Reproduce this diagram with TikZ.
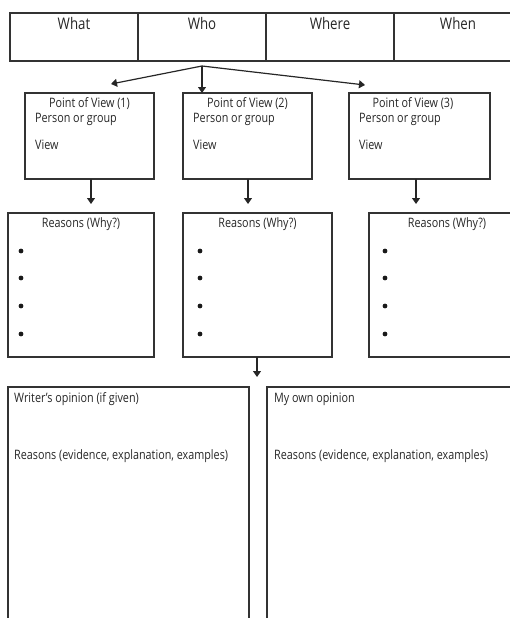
\documentclass[tikz,border=0pt]{standalone}
\usepackage{fontspec}
\setmainfont{Open Sans}[FakeStretch=0.83]
\usetikzlibrary{positioning,calc,arrows.meta}
\tikzset{
  boxline/.style={draw=black!80, line width=1.2pt},
  plainbox/.style={boxline, rectangle, inner sep=0pt, outer sep=0pt},
  cellbox/.style={plainbox, minimum width=128pt, minimum height=48pt},
  pvbox/.style={plainbox, minimum width=129pt, minimum height=86pt},
  whybox/.style={plainbox, minimum height=144pt},
  opinionbox/.style={plainbox, minimum height=260pt},
  headtext/.style={font=\fontsize{16}{19}\selectfont, text=black!85, inner sep=0pt},
  bodytext/.style={font=\fontsize{13}{15}\selectfont, text=black!85, inner sep=0pt},
  linkarrow/.style={-{Triangle[length=6pt,width=8pt]}, draw=black!85, line width=1.2pt},
  dotmark/.style={fill=black!90},
}

\begin{document}
\begin{tikzpicture}[x=1pt, y=-1pt]
  \useasboundingbox (0,0) rectangle (510,618);
  \clip (0,0) rectangle (510,618);

  % Top table
  \node[cellbox, anchor=north west] (what) at (10,13) {};
  \node[cellbox, right=0pt of what] (who) {};
  \node[cellbox, right=0pt of who] (where) {};
  \node[cellbox, right=0pt of where] (when) {};
  \foreach \c/\t in {what/What, who/Who, where/Where, when/When}
    \node[headtext, anchor=base] (\c-lbl) at ($(\c.north)+(0,17)$) {\t};

  % Points of view
  \node[pvbox, anchor=north west] (pv1) at (25,93) {};
  \node[pvbox, right=29pt of pv1] (pv2) {};
  \node[pvbox, minimum width=141pt, right=37pt of pv2] (pv3) {};
  \foreach \p/\n/\dx in {pv1/1/0, pv2/2/0, pv3/3/-6.5} {
    \node[bodytext, anchor=base] (\p-title) at ($(\p.north)+(\dx,14.5)$) {Point of View (\n)};
    \node[bodytext, anchor=base west] (\p-who) at ($(\p.north west)+(10,29.5)$) {Person or group};
    \node[bodytext, anchor=base west] (\p-view) at ($(\p.north west)+(10,56)$) {View};
  }

  % Fork from the table
  \coordinate (fork) at ($(who.south)+(0,5)$);
  \coordinate (pv1in) at ($(pv1.north west)+(86,-9)$);
  \coordinate (pv3in) at ($(pv3.north west)+(16,-8)$);
  \draw[linkarrow] (fork) -- (pv1in);
  \draw[linkarrow] (fork) -- (fork |- pv2.north);
  \draw[linkarrow] (fork) -- (pv3in);

  % Reasons
  \node[whybox, minimum width=146pt, anchor=north west] (why1) at (8,213) {};
  \node[whybox, minimum width=149pt, anchor=north west] (why2) at (183,213) {};
  \node[whybox, minimum width=156pt, anchor=north west] (why3) at (369,213) {};
  \foreach \r/\bx in {why1/13, why2/17, why3/16} {
    \node[bodytext, anchor=base] (\r-title) at ($(\r.north)+(0,14.5)$) {Reasons (Why?)};
    \foreach \by in {38,65,93,121}
      \fill[dotmark] ($(\r.north west)+(\bx,\by)$) circle (2.4pt);
  }
  \draw[linkarrow, shorten >=9pt] ($(pv1.south)+(1.5,0)$) -- ($(pv1.south |- why1.north)+(1.5,0)$);
  \draw[linkarrow, shorten >=9pt] ($(pv2.south)+(0.5,0)$) -- ($(pv2.south |- why2.north)+(0.5,0)$);
  \draw[linkarrow, shorten >=9pt] ($(pv3.south)+(-3.5,0)$) -- ($(pv3.south |- why3.north)+(-3.5,0)$);

  % Opinions
  \node[opinionbox, minimum width=241pt, anchor=north west] (writer) at (8,387) {};
  \node[opinionbox, minimum width=260pt, anchor=north west] (mine) at (267,387) {};
  \draw[linkarrow, shorten >=10pt] ($(why2.south)+(-0.5,0)$) -- ($(why2.south |- writer.north)+(-0.5,0)$);
  \node[bodytext, anchor=base west] (writer-title) at ($(writer.north west)+(6,15)$) {Writer’s opinion (if given)};
  \node[bodytext, anchor=base west] (writer-why) at ($(writer.north west)+(6,72)$) {Reasons (evidence, explanation, examples)};
  \node[bodytext, anchor=base west] (mine-title) at ($(mine.north west)+(7,15)$) {My own opinion};
  \node[bodytext, anchor=base west] (mine-why) at ($(mine.north west)+(7,72)$) {Reasons (evidence, explanation, examples)};
\end{tikzpicture}
\end{document}
